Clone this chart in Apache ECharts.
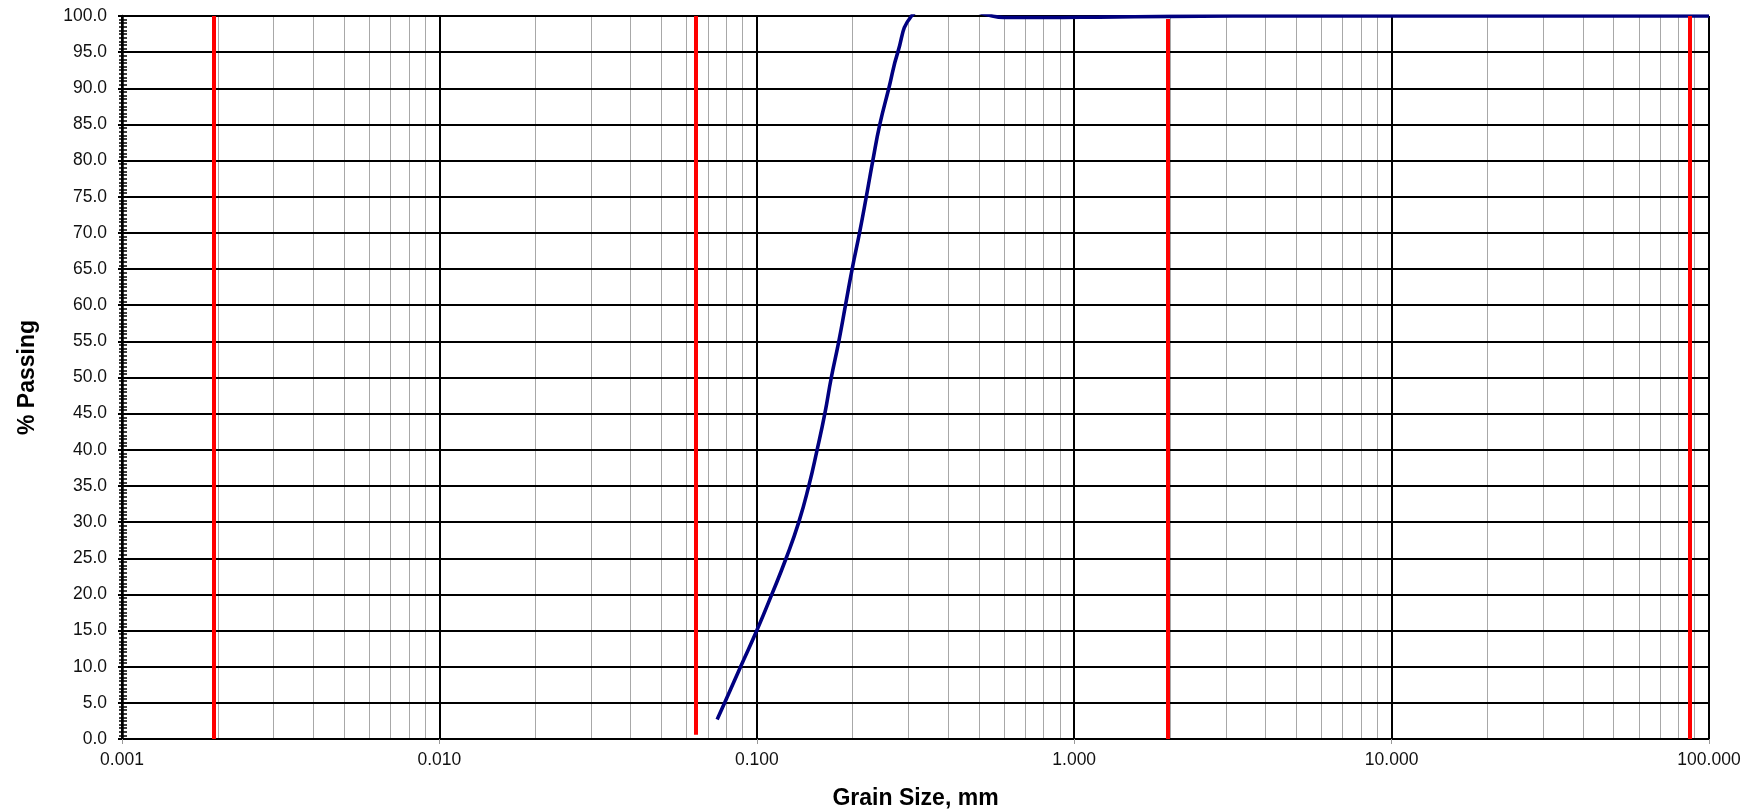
<!DOCTYPE html>
<html>
<head>
<meta charset="utf-8">
<script src="https://cdn.jsdelivr.net/npm/echarts@6/dist/echarts.min.js"></script>
<style>
html,body{margin:0;padding:0;background:#fff;}
#chart{width:1758px;height:811px;}
</style>
</head>
<body>
<div id="chart"></div>
<script>
// Gradation curve (grain size mm, % passing)
const grainSize = [0.075, 0.0792, 0.0889, 0.1, 0.1115, 0.1237, 0.1356, 0.1458, 0.1549, 0.1638, 0.1717, 0.1813, 0.1903, 0.1997, 0.2107, 0.2213, 0.232, 0.2441, 0.2606, 0.2782, 0.3072, 0.36, 0.45, 0.54, 0.6, 0.8, 1.2, 2, 5, 20, 100];
const percentPassing = [2.7, 5.0, 10.0, 15.0, 20.0, 25.0, 30.0, 35.0, 40.0, 45.0, 50.0, 55.0, 60.0, 65.0, 70.0, 75.0, 80.0, 85.0, 90.0, 95.0, 100.0, 101.2, 101.0, 100.1, 99.8, 99.8, 99.85, 99.95, 100, 100, 100];

// Red boundary lines: [grain size, bottom %, top %]
const boundarySize = [0.00195, 0.0642, 1.975, 87];
const boundaryBottom = [0, 0.6, 0, 0];
const boundaryTop = [100, 100, 99.6, 100];

// Minor log gridlines (2..9 in each decade)
const decades = [0.001, 0.01, 0.1, 1, 10];
const minorMultipliers = [2, 3, 4, 5, 6, 7, 8, 9];

const xMin = 0.001, xMax = 100;
const yMin = 0, yMax = 100, yStep = 5;

const minorValues = [];
decades.forEach(d => minorMultipliers.forEach(m => minorValues.push(+(d * m).toPrecision(3))));

const redLines = boundarySize.map((x, i) => [
  { coord: [x, boundaryBottom[i]] },
  { coord: [x, boundaryTop[i]] }
]);

const chart = echarts.init(document.getElementById('chart'), null, { renderer: 'canvas' });
const FONT = 'Liberation Sans, Arial, sans-serif';

chart.setOption({
  animation: false,
  backgroundColor: '#fff',
  grid: { left: 122, right: 49, top: 16, bottom: 72, containLabel: false, outerBoundsMode: 'none' },
  xAxis: {
    type: 'log',
    logBase: 10,
    min: xMin,
    max: xMax,
    name: 'Grain Size, mm',
    nameLocation: 'middle',
    nameGap: 48,
    nameTextStyle: { fontFamily: FONT, fontSize: 23, fontWeight: 'bold', color: '#000' },
    axisLine: { show: true, onZero: false, lineStyle: { color: '#000', width: 1.2 } },
    axisTick: { show: true, length: 5, lineStyle: { color: '#999', width: 1 } },
    axisLabel: {
      margin: 12, fontFamily: FONT, fontSize: 17.5, color: '#111',
      formatter: v => Number(v).toFixed(3)
    },
    splitLine: { show: true, lineStyle: { color: '#000', width: 2 } },
    minorTick: { show: false },
    minorSplitLine: { show: false }
  },
  yAxis: [{
    type: 'value',
    position: 'left',
    min: yMin,
    max: yMax,
    interval: yStep,
    name: '% Passing',
    nameLocation: 'middle',
    nameGap: 83,
    nameRotate: 90,
    nameTextStyle: { fontFamily: FONT, fontSize: 23, fontWeight: 'bold', color: '#000' },
    axisLine: { show: true, lineStyle: { color: '#000', width: 2.5 } },
    axisTick: { show: true, inside: false, length: 4, lineStyle: { color: '#000', width: 2 } },
    minorTick: { show: true, splitNumber: 10, length: 3, lineStyle: { color: '#000', width: 1.5 } },
    axisLabel: {
      margin: 15, fontFamily: FONT, fontSize: 17.5, color: '#111',
      formatter: v => Number(v).toFixed(1)
    },
    splitLine: { show: true, lineStyle: { color: '#000', width: 2 } }
  }, {
    type: 'value',
    position: 'left',
    min: yMin,
    max: yMax,
    interval: yStep,
    axisLine: { show: false },
    axisTick: { show: true, inside: true, length: 5, lineStyle: { color: '#000', width: 2 } },
    minorTick: { show: true, splitNumber: 10, length: 5, lineStyle: { color: '#000', width: 1.5 } },
    axisLabel: { show: false },
    splitLine: { show: false }
  }],
  series: [
    {
      type: 'custom',
      z: -1,
      silent: true,
      clip: true,
      data: minorValues.map(v => [v]),
      encode: { x: 0 },
      renderItem: function (params, api) {
        const x = api.value(0);
        const p0 = api.coord([x, yMin]);
        const p1 = api.coord([x, yMax]);
        return {
          type: 'line',
          shape: { x1: Math.round(p0[0]) + 0.5, y1: p0[1], x2: Math.round(p1[0]) + 0.5, y2: p1[1] },
          style: { stroke: '#a8a8a8', lineWidth: 1 }
        };
      }
    },
    {
      type: 'line',
      z: 3,
      silent: true,
      data: [],
      markLine: {
        silent: true,
        symbol: 'none',
        label: { show: false },
        lineStyle: { color: '#ff0000', width: 4, type: 'solid' },
        data: redLines
      }
    },
    {
      type: 'line',
      z: 4,
      name: 'Gradation',
      data: grainSize.map((x, i) => [x, percentPassing[i]]),
      showSymbol: false,
      symbol: 'none',
      smooth: 0.5,
      clip: true,
      lineStyle: { color: '#000080', width: 3.6 }
    }
  ]
});
</script>
</body>
</html>
